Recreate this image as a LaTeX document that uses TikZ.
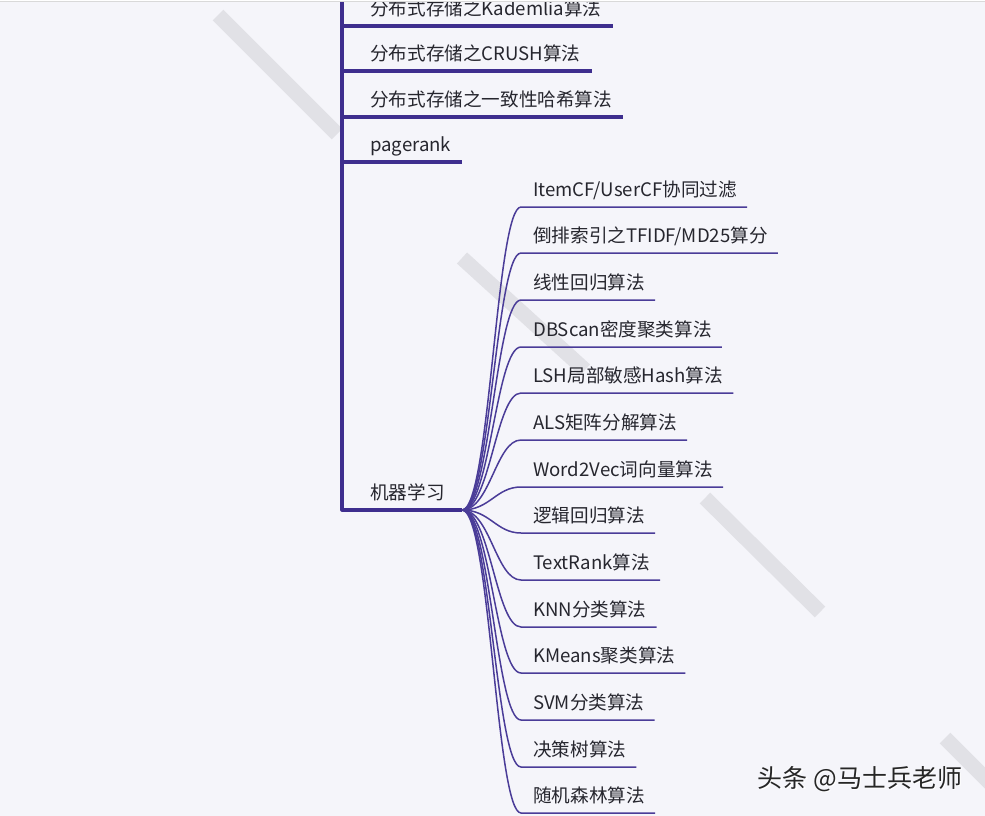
\documentclass[tikz,border=0pt]{standalone}
\usepackage{fontspec}
\newfontfamily\cjk{Noto Sans CJK SC}
\usetikzlibrary{calc}
\definecolor{bgpaper}{HTML}{F5F5FA}
\definecolor{trunkc}{HTML}{3E2E8E}
\definecolor{branchc}{HTML}{4A3C98}
\definecolor{stripec}{HTML}{E1E1E6}
\definecolor{inkc}{HTML}{26262E}
\tikzset{
  topic/.style={anchor=south west,inner xsep=0pt,inner ysep=10pt,text depth=0pt,text=inkc},
  trunk/.style={draw=trunkc,line width=3.2pt},
  branch/.style={draw=branchc,line width=1.5pt},
  stripe/.style={draw=stripec,line width=15pt},
}
\begin{document}
\begin{tikzpicture}[x=1pt,y=-1pt,line join=round,font=\cjk\fontsize{18.6}{22}\selectfont]
\useasboundingbox (0,0) rectangle (985,816);
\clip (0,0) rectangle (985,816);
\fill[bgpaper] (0,0) rectangle (985,816);
% grey stripes behind the map
\draw[stripe] (218,15) -- (337,134);
\draw[stripe] (462,258) -- (585,370);
\draw[stripe] (705,498) -- (820,612);
\draw[stripe] (945,738) -- (1010,803);
% second level
\coordinate (top) at (342,0);
\node[topic] (kad) at (370,26) {分布式存储之Kademlia算法};
\node[topic] (crush) at (370,71) {分布式存储之CRUSH算法};
\node[topic] (hash) at (370,117) {分布式存储之一致性哈希算法};
\node[topic] (pr) at (370,162) {pagerank};
\node[topic] (ml) at (370,510) {机器学习};
\coordinate (fan) at (462,510);
\draw[trunk] (top) -- (top |- ml.south) -- (fan);
\foreach \n in {kad,crush,hash,pr}
  \draw[trunk] (top |- \n.south) -- ([xshift=11pt]\n.south east);
% third level
\foreach \n/\y/\t in {i1/207/{ItemCF/UserCF协同过滤},i2/253/{倒排索引之TFIDF/MD25算分},
  i3/300/{线性回归算法},i4/347/{DBScan密度聚类算法},i5/393/{LSH局部敏感Hash算法},
  i6/440/{ALS矩阵分解算法},i7/487/{Word2Vec词向量算法},i8/533/{逻辑回归算法},
  i9/580/{TextRank算法},i10/627/{KNN分类算法},i11/673/{KMeans聚类算法},
  i12/720/{SVM分类算法},i13/767/{决策树算法},i14/813/{随机森林算法}}{
  \node[topic] (\n) at (533,\y) {\t};
  \draw[branch] (fan) .. controls +(28,0) and +(-25,0) .. ([xshift=-12pt]\n.south west) -- ([xshift=10pt]\n.south east);
}
% watermark
\node[text=white,font=\cjk\fontsize{25}{29}\selectfont] (wmb) at (861.2,780.2) {头条 @马士兵老师};
\node[text=black!85,font=\cjk\fontsize{25}{29}\selectfont] (wm) at (860,779) {头条 @马士兵老师};
% top edge
\fill[white] (0,0) rectangle (985,1.5);
\draw[black!15,line width=1pt] (0,2) -- (985,2);
\end{tikzpicture}
\end{document}
